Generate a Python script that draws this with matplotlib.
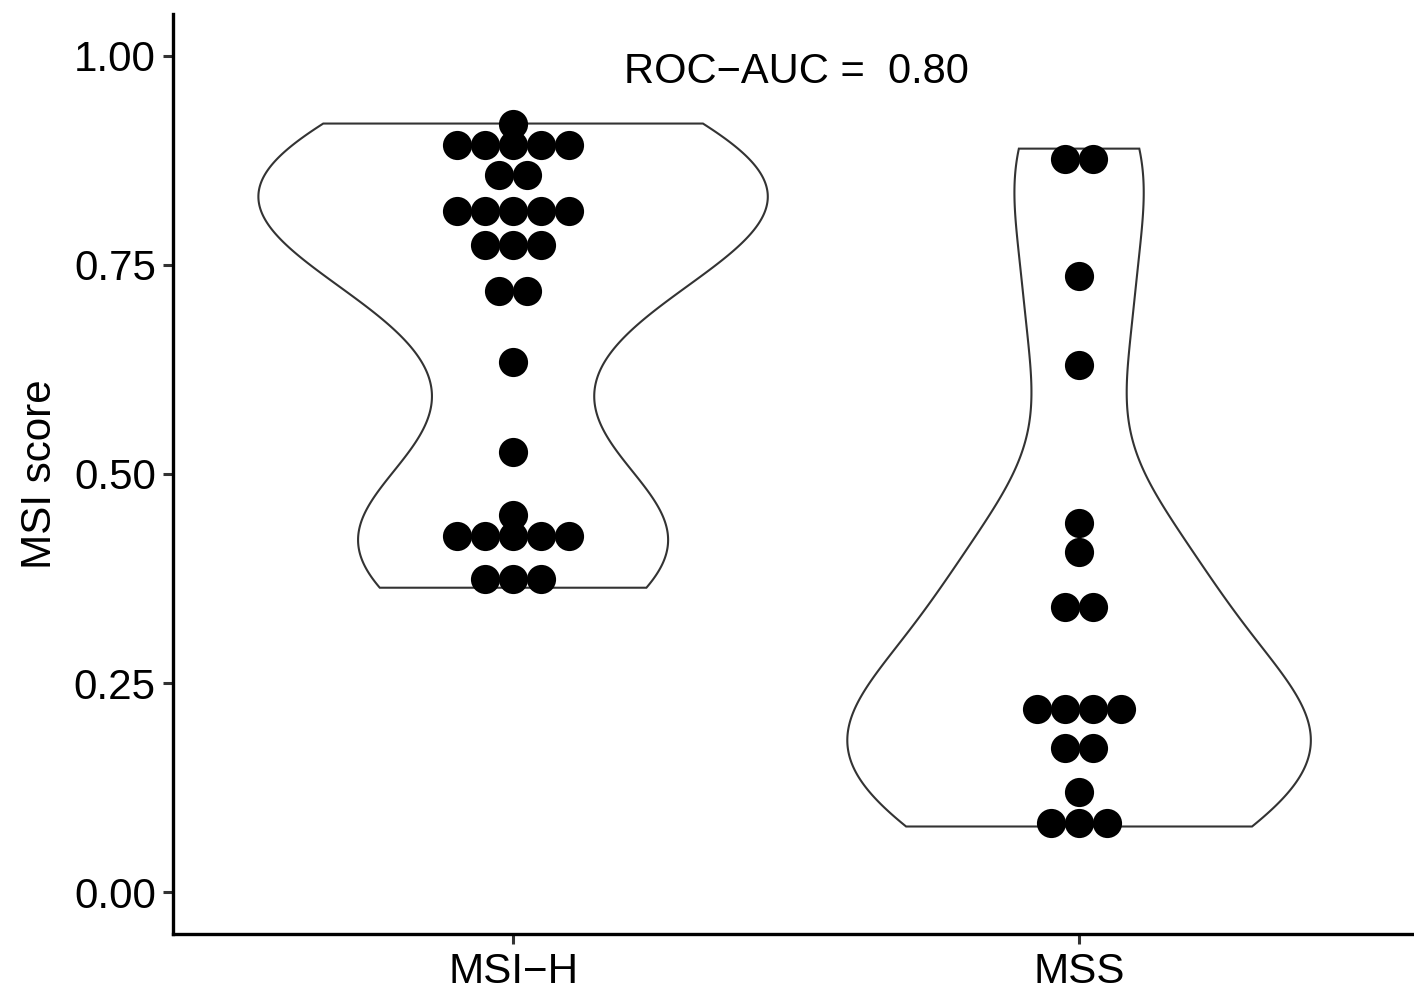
import matplotlib.pyplot as plt
import numpy as np

groups = ["MSI\u2212H", "MSS"]

# dot rows: score of each stacked row and how many samples sit in it
msih_rows = [0.919, 0.8935, 0.858, 0.815, 0.774, 0.719, 0.634, 0.526, 0.451, 0.426, 0.375]
msih_counts = [1, 5, 2, 5, 3, 2, 1, 1, 1, 5, 3]
mss_rows = [0.8765, 0.737, 0.6305, 0.441, 0.4066, 0.3415, 0.219, 0.172, 0.120, 0.083]
mss_counts = [2, 1, 1, 1, 1, 2, 4, 2, 1, 3]

# lowest / highest score per group
msih_range = [0.364, 0.919]
mss_range = [0.0785, 0.889]

auc_text = "ROC\u2212AUC =  0.80"


def bw_nrd0(x):
    sd = np.std(x, ddof=1)
    iqr = np.subtract(*np.percentile(x, [75, 25]))
    lo = min(sd, iqr / 1.34)
    return 0.9 * lo * len(x) ** -0.2


def density(x, lo, hi):
    grid = np.linspace(lo, hi, 512)
    bw = bw_nrd0(x)
    d = np.exp(-0.5 * ((grid[:, None] - x[None, :]) / bw) ** 2).sum(axis=1)
    d = d / (len(x) * bw * np.sqrt(2 * np.pi))
    return grid, d


def main():
    plt.rcParams['font.family'] = ['Liberation Sans', 'DejaVu Sans']
    fig = plt.figure(figsize=(14.14, 9.92), dpi=100)
    ax = fig.add_axes([0.1227, 0.0585, 0.8806, 0.9274])

    all_rows = [(msih_rows, msih_counts, msih_range), (mss_rows, mss_counts, mss_range)]

    dens = []
    for rows, counts, rng in all_rows:
        vals = np.sort(np.repeat(np.array(rows), counts))
        # the extreme samples sit inside the outer rows
        vals[0] = rng[0]
        vals[-1] = rng[1]
        dens.append(density(vals, rng[0], rng[1]))
    dmax = max(d.max() for g, d in dens)

    # violins
    for i, (grid, d) in enumerate(dens):
        pos = i + 1
        half = d / dmax * 0.45
        xs = np.concatenate([pos - half, (pos + half)[::-1], [pos - half[0]]])
        ys = np.concatenate([grid, grid[::-1], [grid[0]]])
        ax.fill(xs, ys, facecolor='white', edgecolor='#333333', linewidth=1.5, zorder=2)

    # stacked dots
    step = 0.0495
    for i, (rows, counts, rng) in enumerate(all_rows):
        pos = i + 1
        for y, n in zip(rows, counts):
            offs = (np.arange(n) - (n - 1) / 2) * step
            ax.plot(pos + offs, [y] * n, 'o', color='black', markersize=21,
                    markeredgewidth=0, zorder=3)

    ax.text(1.5, 0.981, auc_text, ha='center', va='center', fontsize=30)

    ax.set_xlim(0.4, 2.6)
    ax.set_ylim(-0.05, 1.05)
    ax.set_xticks([1, 2])
    ax.set_xticklabels(groups)
    ax.set_yticks([0, 0.25, 0.5, 0.75, 1.0])
    ax.set_yticklabels(["0.00", "0.25", "0.50", "0.75", "1.00"])
    ax.set_ylabel("MSI score", fontsize=30.3, labelpad=10)

    for side in ['top', 'right']:
        ax.spines[side].set_visible(False)
    for side in ['left', 'bottom']:
        ax.spines[side].set_linewidth(2.4)
        ax.spines[side].set_color('black')
    ax.tick_params(axis='both', labelsize=30.3, length=7.2, width=2.2,
                   color='#333333', labelcolor='black', pad=5.5)

    plt.savefig("out.png", format="png")


if __name__ == "__main__":
    main()
